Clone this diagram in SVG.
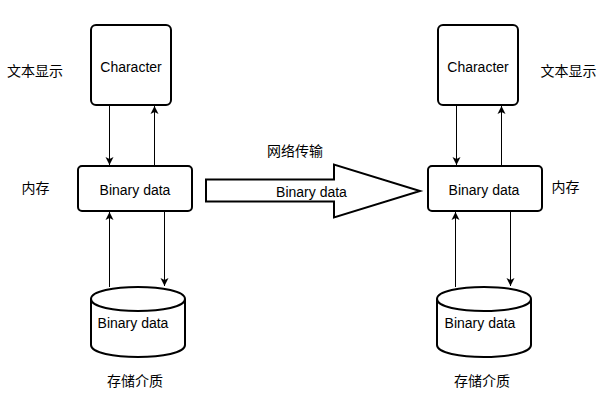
<svg xmlns="http://www.w3.org/2000/svg" width="607" height="402" viewBox="0 0 607 402">
<defs>
<style>
.box{fill:#fff;stroke:#000;stroke-width:2}
.edge{stroke:#000;stroke-width:1;fill:none}
.t{font-family:"Liberation Sans",Arial,sans-serif;font-size:14px;fill:#000;text-anchor:middle;dominant-baseline:central}
.c{font-family:"Noto Sans CJK SC","Liberation Sans",sans-serif;font-size:14px;fill:#000;text-anchor:middle;dominant-baseline:central}
</style>
<marker id="arr" markerWidth="9" markerHeight="9" refX="8" refY="4.5" orient="auto" markerUnits="userSpaceOnUse">
<path d="M0,0.5 L8,4.5 L0,8.5 L2,4.5 Z" fill="#000"/>
</marker>
</defs>
<rect width="607" height="402" fill="#fff"/>

<g id="char-left"><rect class="box" x="91" y="25" width="80" height="80" rx="5"/><text class="t" x="131" y="67">Character</text></g>
<g id="mem-left"><rect class="box" x="78" y="166" width="114" height="45" rx="4"/><text class="t" x="135" y="189.5">Binary data</text></g>
<g id="disk-left"><path class="box" d="M91,299 C91,283 185,283 185,299 L185,345 C185,361 91,361 91,345 Z"/><path class="box" d="M91,299 C91,315 185,315 185,299" fill="none"/><text class="t" x="133" y="323">Binary data</text></g>

<g id="char-right"><rect class="box" x="438" y="25" width="80" height="80" rx="5"/><text class="t" x="478" y="67">Character</text></g>
<g id="mem-right"><rect class="box" x="428" y="166" width="114" height="45" rx="4"/><text class="t" x="484" y="189.5">Binary data</text></g>
<g id="disk-right"><path class="box" d="M437,299 C437,283 531,283 531,299 L531,345 C531,361 437,361 437,345 Z"/><path class="box" d="M437,299 C437,315 531,315 531,299" fill="none"/><text class="t" x="480" y="323">Binary data</text></g>

<g id="transfer"><polygon class="box" points="206,179.5 334,179.5 334,164.5 420,191 334,217.5 334,201.5 206,201.5"/><text class="t" x="311.5" y="191.5">Binary data</text></g>

<g id="labels">
<text class="c" x="35" y="70">文本显示</text>
<text class="c" x="35.5" y="186.5">内存</text>
<text class="c" x="135" y="380">存储介质</text>
<text class="c" x="295" y="150">网络传输</text>
<text class="c" x="568.5" y="70">文本显示</text>
<text class="c" x="565.5" y="186">内存</text>
<text class="c" x="482" y="380">存储介质</text>
</g>

<g id="connectors">
<line class="edge" x1="109.5" y1="106" x2="109.5" y2="165" marker-end="url(#arr)"/>
<line class="edge" x1="154.5" y1="165" x2="154.5" y2="106" marker-end="url(#arr)"/>
<line class="edge" x1="109.5" y1="287" x2="109.5" y2="212" marker-end="url(#arr)"/>
<line class="edge" x1="164.5" y1="212" x2="164.5" y2="286" marker-end="url(#arr)"/>
<line class="edge" x1="456.5" y1="106" x2="456.5" y2="165" marker-end="url(#arr)"/>
<line class="edge" x1="501.5" y1="165" x2="501.5" y2="106" marker-end="url(#arr)"/>
<line class="edge" x1="455.5" y1="287" x2="455.5" y2="212" marker-end="url(#arr)"/>
<line class="edge" x1="510.5" y1="212" x2="510.5" y2="286" marker-end="url(#arr)"/>
</g>
</svg>
